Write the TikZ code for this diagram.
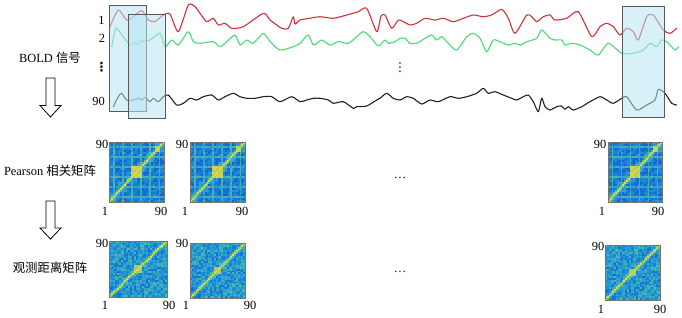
\documentclass[tikz,border=0pt]{standalone}
\usepackage{fontspec}
\setmainfont{Liberation Serif}
\newfontfamily\cjk{Noto Sans CJK SC}
\newfontfamily\dejavu{DejaVu Sans}
\definecolor{hcA}{rgb}{0.10,0.30,0.80}
\definecolor{hcB}{rgb}{0.10,0.60,0.86}
\definecolor{hcC}{rgb}{0.40,0.76,0.58}
\definecolor{hcD}{rgb}{0.97,0.86,0.18}
\definecolor{sigred}{rgb}{0.80,0.20,0.22}
\definecolor{siggreen}{rgb}{0.30,0.85,0.47}
\definecolor{sigblack}{rgb}{0.13,0.13,0.13}
\definecolor{winfill}{rgb}{0.72,0.90,0.95}
% value of cell (i,j), type 1 = Pearson, 2 = distance
\newcommand\HMval[3]{%
  \pgfmathtruncatemacro\HMs{#1+#2}%
  \pgfmathtruncatemacro\HMp{#1*#2}%
  \pgfmathtruncatemacro\HMd{abs(#1-#2)}%
  \pgfmathtruncatemacro\HMq{mod(\HMs*\HMs,101)}%
  \ifnum#3=1
    \pgfmathsetmacro\HMn{mod(mod(3*\HMq,31)+mod(7*\HMp+5*\HMs,31),31)/31}%
    \pgfmathtruncatemacro\HMgi{floor(#1/5)}%
    \pgfmathtruncatemacro\HMgj{floor(#2/5)}%
    \pgfmathtruncatemacro\HMmi{mod(#1,5)}%
    \pgfmathtruncatemacro\HMmj{mod(#2,5)}%
    \pgfmathsetmacro\HMv{0.08+0.30*\HMn}%
    \ifnum\HMgi=\HMgj \pgfmathsetmacro\HMv{\HMv+0.2}\fi
    \ifnum\HMmi=2 \pgfmathsetmacro\HMv{0.45+0.2*\HMn}\fi
    \ifnum\HMmj=2 \pgfmathsetmacro\HMv{0.45+0.2*\HMn}\fi
    \ifnum#1>11 \ifnum#1<18 \ifnum#2>11 \ifnum#2<18 \pgfmathsetmacro\HMv{0.84+0.12*\HMn}\fi\fi\fi\fi
    \ifnum#1>24 \ifnum#1<28 \ifnum#2>24 \ifnum#2<28 \pgfmathsetmacro\HMv{0.86}\fi\fi\fi\fi
  \else
    \pgfmathsetmacro\HMn{mod(mod(5*\HMq,23)+mod(11*\HMp+3*\HMs,23),23)/23}%
    \pgfmathsetmacro\HMv{0.18+0.47*\HMn}%
    \ifnum#1>12 \ifnum#1<17 \ifnum#2>12 \ifnum#2<17 \pgfmathsetmacro\HMv{0.84}\fi\fi\fi\fi
    \ifnum#1>25 \ifnum#1<28 \ifnum#2>25 \ifnum#2<28 \pgfmathsetmacro\HMv{0.8}\fi\fi\fi\fi
  \fi
  \ifnum\HMd=1 \pgfmathsetmacro\HMv{max(\HMv,0.62)}\fi
  \ifnum\HMd=0 \pgfmathsetmacro\HMv{0.97}\fi
}
\newcommand\HMcolor{%
  \ifdim\HMv pt<0.4pt
    \pgfmathtruncatemacro\HMpp{\HMv/0.4*100}\edef\HMcol{hcB!\HMpp!hcA}%
  \else\ifdim\HMv pt<0.7pt
    \pgfmathtruncatemacro\HMpp{(\HMv-0.4)/0.3*100}\edef\HMcol{hcC!\HMpp!hcB}%
  \else
    \pgfmathtruncatemacro\HMpp{min(100,(\HMv-0.7)/0.3*100)}\edef\HMcol{hcD!\HMpp!hcC}%
  \fi\fi}
% #1 left, #2 top, #3 right, #4 bottom, #5 type
\newcommand\heatmat[5]{%
  \pgfmathsetmacro\HMcw{(#3-#1)/30}%
  \pgfmathsetmacro\HMch{(#4-#2)/30}%
  \foreach \HMi in {0,...,29}{%
    \foreach \HMj in {0,...,29}{%
      \HMval{\HMi}{\HMj}{#5}%
      \HMcolor
      \fill[\HMcol] ({#1+\HMi*\HMcw},{#4-\HMj*\HMch}) rectangle ({min(#3,#1+(\HMi+1)*\HMcw+0.3)},{max(#2,#4-(\HMj+1)*\HMch-0.3)});
    }%
  }%
  \draw[black!55, line width=0.6pt] (#1,#2) rectangle (#3,#4);
}
\begin{document}
\begin{tikzpicture}[x=1pt,y=-1pt,
  lbl/.style={font=\fontsize{12.4}{14}\selectfont, inner sep=0pt},
  sig/.style={line width=1.1pt, line join=round, line cap=round},
  win/.style={draw=black!65, line width=1pt, fill=winfill, fill opacity=0.55},
  hollow/.style={draw=black, line width=0.8pt, fill=white, line join=miter}]
\useasboundingbox (0,0) rectangle (682,317);

% ---- signals ----
\draw[sig, sigred] plot[smooth, tension=0.4] coordinates {(110,26.7) (118.3,10) (126.7,20) (133.3,16.7) (141.7,10.7) (148.3,20) (155,21.7) (163.3,15) (170,14) (178.3,31.7) (188.3,5) (195,6.7) (200,13.3) (206.7,21.7) (213.3,18.3) (218.3,25) (225,23.3) (231.7,28.3) (243.3,26.7) (263.3,13.3) (270,20) (281.7,28.3) (288.3,28.3) (293.3,16.7) (295,24) (300,20) (310,18.3) (320,16.7) (333.3,18.3) (346.7,15) (358.3,11.7) (366.7,8.3) (376.7,31.7) (381,16) (385,15) (391.7,28.3) (398.3,20) (403.3,21.7) (410,25) (416.7,23.3) (425,18.3) (435,20) (443.3,18.3) (453.3,21.7) (463.3,18.3) (473.3,15) (483.3,16.7) (491.7,15) (501.7,9.3) (508.3,18.3) (515,33.3) (526.7,15) (531.7,16.7) (536.7,21.7) (543.3,16.7) (550,15) (555,20) (566.7,18.3) (578.3,11.7) (591.7,36.7) (600,26.7) (606.7,23.3) (613.3,26.7) (620,35) (626.7,28.3) (633.3,31.7) (638.3,40) (646.7,16.7) (653.3,15) (663.3,30) (670,33.3) (676.7,28.3)};
\draw[sig, siggreen] plot[smooth, tension=0.4] coordinates {(111.7,46.7) (115,30) (116.7,28.3) (123.3,36.7) (130,45) (135,41.7) (136.7,45) (140,41.7) (150,40) (160,33.3) (165,46.7) (171.7,40) (178.3,45) (188.3,31.7) (193.3,41.7) (200,43.3) (213.3,41.7) (220,46.7) (226.7,41.7) (235,35) (240,45) (246.7,40) (253.3,43.3) (263.3,33.3) (270,41.7) (280,50) (293.3,46.7) (300,43.3) (308.3,35) (313.3,45) (321.7,40) (330,45) (338.3,41.7) (348.3,43.3) (356.7,36.7) (363.3,31.7) (370,36.7) (376.7,45) (380,45) (385,40) (388.3,43.3) (395,41.7) (400,38.3) (405,38.3) (410,43.3) (416.7,43.3) (425,38.3) (431.7,35) (436.7,40) (441.7,36.7) (448.3,43.3) (456.7,50) (466.7,36.7) (473.3,33.3) (480,38.3) (486.7,51.7) (493.3,40) (500,41.7) (508.3,45) (515,43.3) (520,45) (526.7,41.7) (536.7,38.3) (541.7,30) (550,38.3) (555,40) (561.7,40) (565,45) (571.7,43.3) (580,45) (590,50) (598.3,55) (608.3,43.3) (621.7,53.3) (633.3,53.3) (643.3,50) (650,43.3) (656.7,46.7) (661.7,40) (666.7,41.7) (675,50) (678.3,46.7)};
\draw[sig, sigblack] plot[smooth, tension=0.4] coordinates {(113.3,106.7) (118.3,96.7) (121.7,93.3) (126.7,100) (133.3,100) (138.3,98.3) (141.7,100) (145,97.3) (150,101.7) (153.3,98.3) (158.3,101.7) (163.3,96.7) (168.3,95) (176.7,105) (183.3,103.3) (190,98.3) (196.7,100) (203.3,96.7) (211.7,95) (218.3,100) (225,96.7) (233.3,93.3) (240,96.7) (246.7,98.3) (255,98.3) (263.3,96.7) (271.7,96.7) (280,101.7) (291.7,96.7) (300,101.7) (306.7,100) (313.3,98.3) (320,98.3) (328.3,100) (333.3,103.3) (343.3,101.7) (353.3,108.3) (356.7,106.7) (366.7,106) (376.7,100) (380,98.3) (386.7,93.3) (393.3,98.3) (400,100) (406.7,96.7) (413.3,98.3) (421.7,104) (430,100) (438.3,101.7) (450,96.7) (458.3,98.3) (466.7,96.7) (476.7,93.3) (483.3,88.3) (488.3,93.3) (495,91.7) (503.3,95) (511.7,98.3) (516.7,100) (523.3,96.7) (528.3,95) (533.3,101.7) (538.3,111.7) (541.7,98.3) (545,106.7) (550,110) (556.7,106.7) (561.7,106) (565,109.3) (568.3,106.7) (573.3,110) (581.7,106.7) (590,101.7) (600,96.7) (606.7,100) (613.3,103.3) (621.7,98.3) (626.7,96.7) (636.7,110) (646.7,105) (655,100) (658.3,89.3) (665,93.3) (671.7,103.3) (676.7,105)};

% ---- sliding windows ----
\draw[win] (109,5.7) rectangle (146,111);
\draw[win] (128.7,14) rectangle (165.7,118.3);
\draw[win] (622.3,6) rectangle (664,117.3);

% ---- signal labels ----
\node[lbl] (s1) at (101.5,20) {1};
\node[lbl] (s2) at (102,38.5) {2};
\node[lbl] (sd) at (101.5,67) {\dejavu\bfseries ⋮};
\node[lbl] (s90) at (98.5,101) {90};
\node[lbl, text=blue!40!black] (mdots) at (400,68) {\dejavu ⋮};

% ---- left column ----
\node[lbl] (bold) at (50,58) {BOLD {\cjk 信号}};
\node[lbl] (pearson) at (50,171) {Pearson {\cjk 相关矩阵}};
\node[lbl] (dist) at (50,268) {\cjk 观测距离矩阵};
\draw[hollow] (46,78) -- (55,78) -- (55,105.5) -- (61,105.5) -- (50.5,117) -- (40,105.5) -- (46,105.5) -- cycle;
\draw[hollow] (46,201) -- (55,201) -- (55,228) -- (61,228) -- (50.5,239) -- (40,228) -- (46,228) -- cycle;

% ---- matrices row 1 ----
\heatmat{109}{142}{164}{202}{1}
\heatmat{190}{142}{245}{202}{1}
\heatmat{608}{142}{662}{202}{1}
\node[lbl] (a1t) at (102,144) {90};
\node[lbl] (a1l) at (105,211) {1};
\node[lbl] (a1r) at (161,211) {90};
\node[lbl] (a2t) at (182,144) {90};
\node[lbl] (a2l) at (185,211) {1};
\node[lbl] (a2r) at (242,211) {90};
\node[lbl] (a3t) at (600,144) {90};
\node[lbl] (a3l) at (602,211) {1};
\node[lbl] (a3r) at (658,211) {90};
\node[lbl] (adots) at (400,178) {\ldots};

% ---- matrices row 2 ----
\heatmat{109}{241}{167}{297}{2}
\heatmat{190}{243}{245}{298}{2}
\heatmat{605}{245}{660}{300}{2}
\node[lbl] (b1t) at (102,243) {90};
\node[lbl] (b1l) at (105,305) {1};
\node[lbl] (b1r) at (169,305) {90};
\node[lbl] (b2t) at (182,243) {90};
\node[lbl] (b2l) at (186,305) {1};
\node[lbl] (b2r) at (250,305) {90};
\node[lbl] (b3t) at (598,246) {90};
\node[lbl] (b3l) at (601,309) {1};
\node[lbl] (b3r) at (660,309) {90};
\node[lbl] (bdots) at (400,272) {\ldots};
\end{tikzpicture}
\end{document}
